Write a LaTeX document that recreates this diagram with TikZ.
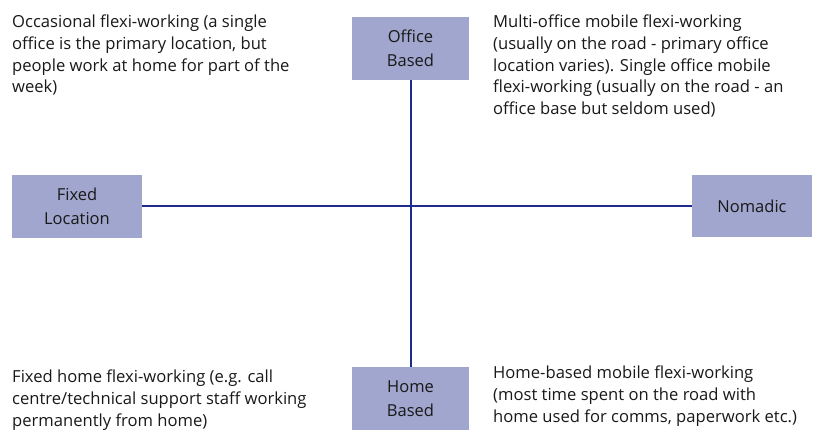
\documentclass[tikz,border=0pt]{standalone}
\usepackage{fontspec}
\setmainfont{Open Sans}
\begin{document}
\begin{tikzpicture}[x=1pt,y=1pt,
  catbox/.style={fill=boxfill, draw=none, minimum width=117pt, minimum height=63pt,
    inner sep=0pt, align=center, font=\fontsize{16.5}{24}\selectfont, text=black!90},
  desc/.style={anchor=north west, inner sep=0pt, align=left,
    font=\fontsize{16.6}{21.6}\selectfont, text=black!90},
  axis/.style={draw=axisblue, line width=2pt}]
\definecolor{boxfill}{RGB}{160,166,205}
\definecolor{axisblue}{RGB}{30,42,140}
\useasboundingbox (0,0) rectangle (819,430);
\fill[white] (0,0) rectangle (819,430);

% category boxes
\node[catbox] (office) at (410.5,381.5) {Office\\Based};
\node[catbox] (home) at (410.5,31.5) {Home\\Based};
\node[catbox, minimum width=130pt] (fixed) at (77,223.5) {Fixed\\Location};
\node[catbox, minimum width=120pt, minimum height=62pt] (nomadic) at (752,224) {Nomadic};

% axes
\draw[axis] (office.south) -- (home.north);
\draw[axis] (fixed.east |- 0,224) -- (nomadic.west |- 0,224);

% quadrant descriptions
\node[desc] (tl) at (12,415) {Occasional flexi-working (a single\\office is the primary location, but\\people work at home for part of the\\week)};
\node[desc] (tr) at (493,415) {Multi-office mobile flexi-working\\(usually on the road - primary office\\location varies). Single office mobile\\flexi-working (usually on the road - an\\office base but seldom used)};
\node[desc] (bl) at (12,60) {Fixed home flexi-working (e.g. call\\centre/technical support staff working\\permanently from home)};
\node[desc] (br) at (493,64) {Home-based mobile flexi-working\\(most time spent on the road with\\home used for comms, paperwork etc.)};
\end{tikzpicture}
\end{document}
